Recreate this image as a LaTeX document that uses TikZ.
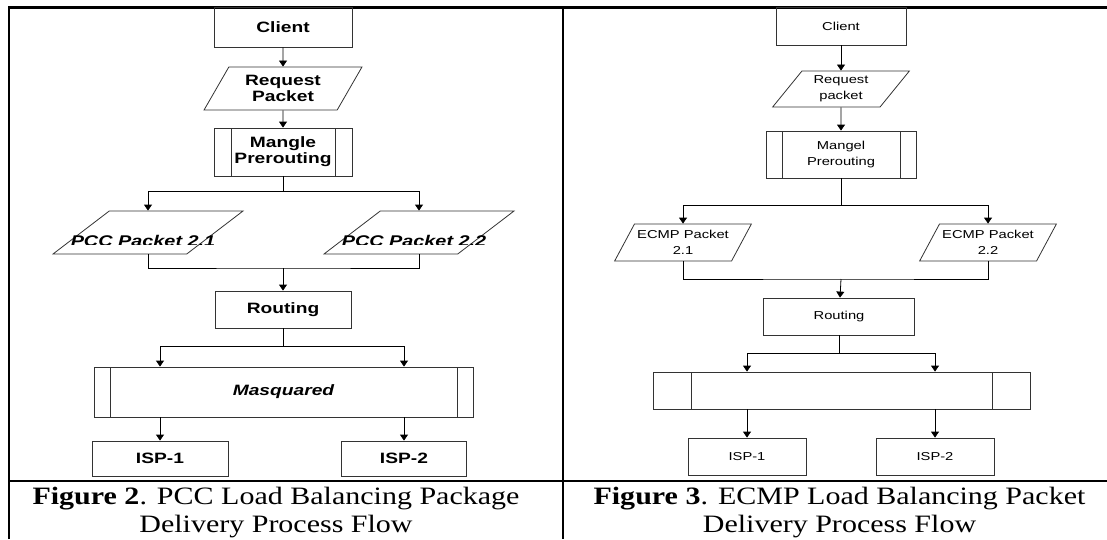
\documentclass[tikz,border=0pt]{standalone}
\usepackage{fontspec}
\setmainfont{Liberation Serif}[FakeStretch=1.2]
\newfontfamily\flowfont{Liberation Sans}[FakeStretch=1.28]
\usetikzlibrary{shapes.geometric,arrows.meta}

\begin{document}
\begin{tikzpicture}[x=1pt,y=-1pt,line width=0.8pt,>={Triangle[length=6pt,width=8pt]},
  procnode/.style={boxnode,path picture={
    \draw[black!80,line width=0.8pt]
      ([xshift=#1]path picture bounding box.north west) -- ([xshift=#1]path picture bounding box.south west)
      ([xshift=-#1]path picture bounding box.north east) -- ([xshift=-#1]path picture bounding box.south east);}}]

  \tikzstyle{boxnode}=[draw=black!80,shape=rectangle,inner sep=1pt,align=center]
  \tikzstyle{datanode}=[boxnode,shape=trapezium,trapezium stretches=true]
  \tikzstyle{pcctext}=[font=\flowfont\bfseries\fontsize{15}{16}\selectfont]
  \tikzstyle{pccital}=[font=\flowfont\bfseries\itshape\fontsize{15.5}{16}\selectfont]
  \tikzstyle{ecmptext}=[font=\flowfont\fontsize{11.5}{16}\selectfont]
  \tikzstyle{captext}=[font=\fontsize{25}{28}\selectfont,align=center,inner sep=0pt]
  \tikzstyle{rule}=[line width=2.5pt]

  \useasboundingbox (0,0) rectangle (1107,539);

  \draw[rule] (9,539) -- (9,7.5) -- (1107,7.5);
  \draw[rule] (563,7.5) -- (563,539);
  \draw[rule] (9,481) -- (1107,481);

  % PCC
  \node[boxnode,pcctext,minimum width=138,minimum height=40] (client) at (283,27) {Client};
  \node[datanode,pcctext,trapezium left angle=58,trapezium right angle=122,
        minimum width=158,minimum height=43] (request) at (283,88.5) {Request\\Packet};
  \node[procnode=17pt,pcctext,minimum width=138,minimum height=48] (mangle) at (283,152) {Mangle\\Prerouting};
  \node[datanode,trapezium left angle=54,trapezium right angle=126,
        minimum width=190,minimum height=43] (pcc1) at (148,232.5) {};
  \node[datanode,trapezium left angle=54,trapezium right angle=126,
        minimum width=190,minimum height=43] (pcc2) at (419,232.5) {};
  \begin{scope}
    \clip (20,200) rectangle (540,244);
    \node[pccital,anchor=base] (pcc1txt) at (143,246) {PCC Packet 2.1};
    \node[pccital,anchor=base] (pcc2txt) at (414,246) {PCC Packet 2.2};
  \end{scope}
  \node[boxnode,pcctext,minimum width=136,minimum height=37] (routing) at (283,309.5) {Routing};
  \node[procnode=16pt,pccital,font=\flowfont\bfseries\itshape\fontsize{15}{16}\selectfont,
        minimum width=379,minimum height=50] (masq) at (283.5,392) {Masquared};
  \node[boxnode,pcctext,minimum width=136,minimum height=35] (isp1) at (160,458.5) {ISP-1};
  \node[boxnode,pcctext,minimum width=125,minimum height=35] (isp2) at (404,458.5) {ISP-2};

  \coordinate (split1) at (283,191);
  \coordinate (join1)  at (283,268);
  \coordinate (split2) at (283,346);

  \draw[->] (client) -- (request);
  \draw[->] (request) -- (mangle);
  \draw (mangle) -- (split1);
  \draw[->] (split1) -| (pcc1);
  \draw[->] (split1) -| (pcc2);
  \draw (pcc1) |- (join1) -| (pcc2);
  \draw[->] (join1) -- (routing);
  \draw (routing) -- (split2);
  \draw[->] (split2) -| (masq.north -| isp1);
  \draw[->] (split2) -| (masq.north -| isp2);
  \draw[->] (masq.south -| isp1) -- (isp1);
  \draw[->] (masq.south -| isp2) -- (isp2);

  % ECMP
  \node[boxnode,ecmptext,minimum width=130,minimum height=38] (client2) at (841,26) {Client};
  \node[datanode,ecmptext,trapezium left angle=53,trapezium right angle=127,
        minimum width=137.5,minimum height=36] (request2) at (841,89) {Request\\packet};
  \node[procnode=16pt,ecmptext,minimum width=150,minimum height=47] (mangel2) at (841,154.5) {Mangel\\Prerouting};
  \node[datanode,ecmptext,trapezium left angle=54,trapezium right angle=126,
        minimum width=137,minimum height=37] (ecmp1) at (683,242.5) {ECMP Packet\\2.1};
  \node[datanode,ecmptext,trapezium left angle=54,trapezium right angle=126,
        minimum width=137,minimum height=37] (ecmp2) at (988,242.5) {ECMP Packet\\2.2};
  \node[boxnode,ecmptext,minimum width=151,minimum height=37] (routing2) at (839,316.5) {Routing};
  \node[procnode=38pt,minimum width=377,minimum height=37] (masq2) at (841.5,390.5) {};
  \node[boxnode,ecmptext,minimum width=118,minimum height=37] (isp3) at (747,456.5) {ISP-1};
  \node[boxnode,ecmptext,minimum width=118,minimum height=37] (isp4) at (935,456.5) {ISP-2};

  \coordinate (split3) at (841,205);
  \coordinate (join2)  at (841,279);
  \coordinate (split4) at (839,353);

  \draw[->] (client2) -- (request2);
  \draw[->] (request2) -- (mangel2);
  \draw (mangel2) -- (split3);
  \draw[->] (split3) -| (ecmp1);
  \draw[->] (split3) -| (ecmp2);
  \draw (ecmp1) |- (join2) -| (ecmp2);
  \draw[->] (join2) -- (routing2);
  \draw (routing2) -- (split4);
  \draw[->] (split4) -| (masq2.north -| isp3);
  \draw[->] (split4) -| (masq2.north -| isp4);
  \draw[->] (masq2.south -| isp3) -- (isp3);
  \draw[->] (masq2.south -| isp4) -- (isp4);

  \node[captext] (cap2) at (276,513) {\textbf{Figure 2}. PCC Load Balancing Package\\Delivery Process Flow};
  \node[captext] (cap3) at (839.5,513) {\textbf{Figure 3}. ECMP Load Balancing Packet\\Delivery Process Flow};
\end{tikzpicture}
\end{document}
